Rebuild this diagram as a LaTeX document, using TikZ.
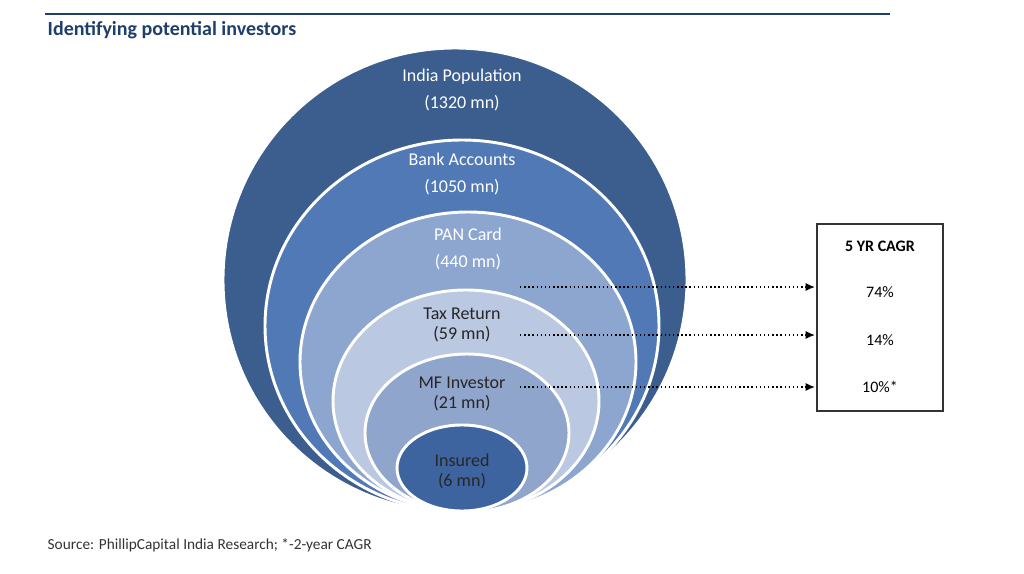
\documentclass[tikz,border=0pt]{standalone}
\usepackage{fontspec}
\setmainfont{Carlito}
\usetikzlibrary{arrows.meta}
\definecolor{c1}{HTML}{3B5E8E}
\definecolor{c2}{HTML}{5179B5}
\definecolor{c3}{HTML}{8CA6CF}
\definecolor{c4}{HTML}{BAC8E1}
\definecolor{c5}{HTML}{8FA5CC}
\definecolor{c6}{HTML}{3E64A0}
\definecolor{tblue}{HTML}{1F3F6B}
\tikzset{ring/.style={draw=white,line width=2.2pt},
 wl/.style={text=white,font=\fontsize{13.5}{15}\selectfont,align=center},
 dl/.style={text=black!85,font=\fontsize{13.5}{15}\selectfont,align=center},
 dotarrow/.style={dotted,line width=1.1pt,-{Latex[length=7pt,width=6pt]}},
 cagr/.style={font=\fontsize{12}{14}\selectfont}}
\begin{document}
\begin{tikzpicture}[x=0.75pt,y=-0.75pt]
\useasboundingbox (0,0) rectangle (1024,574);
\fill[white] (0,0) rectangle (1024,574);
\draw[tblue,line width=0.8pt] (45,14) -- (890,14);
\node[anchor=west,text=tblue,font=\bfseries\fontsize{15}{17}\selectfont] (title) at (43,30) {Identifying potential investors};
\draw[ring,fill=c1] (455,280) ellipse [x radius=232,y radius=232];
\draw[ring,fill=c2] (462,326) ellipse [x radius=197,y radius=186];
\draw[ring,fill=c3] (468,362) ellipse [x radius=168,y radius=150];
\draw[ring,fill=c4] (466,401) ellipse [x radius=133,y radius=111];
\draw[ring,fill=c5] (467,433) ellipse [x radius=102,y radius=79];
\draw[ring,fill=c6] (462,468) ellipse [x radius=65,y radius=43];
\node[wl] (l1) at (462,90) {India Population\\[5pt](1320 mn)};
\node[wl] (l2) at (462,174) {Bank Accounts\\[5pt](1050 mn)};
\node[wl] (l3) at (468,249) {PAN Card\\[5pt](440 mn)};
\node[dl] (l4) at (462,325) {Tax Return\\(59 mn)};
\node[dl] (l5) at (462,394) {MF Investor\\(21 mn)};
\node[dl] (l6) at (462,471) {Insured\\(6 mn)};
\draw[black!80,line width=1pt] (817,224) rectangle (943,411);
\node[cagr,font=\bfseries\fontsize{12}{14}\selectfont] (h) at (880,246) {5 YR CAGR};
\node[cagr] (p1) at (880,292) {74\%};
\node[cagr] (p2) at (880,340) {14\%};
\node[cagr] (p3) at (880,387) {10\%*};
\coordinate (a1) at (520,287); \coordinate (b1) at (815,287);
\coordinate (a2) at (520,335); \coordinate (b2) at (815,335);
\coordinate (a3) at (520,387); \coordinate (b3) at (815,387);
\draw[dotarrow] (a1) -- (b1);
\draw[dotarrow] (a2) -- (b2);
\draw[dotarrow] (a3) -- (b3);
\node[anchor=west,text=black!80,font=\fontsize{11.5}{13}\selectfont] (src) at (43,545) {Source: PhillipCapital India Research; *-2-year CAGR};
\end{tikzpicture}
\end{document}
